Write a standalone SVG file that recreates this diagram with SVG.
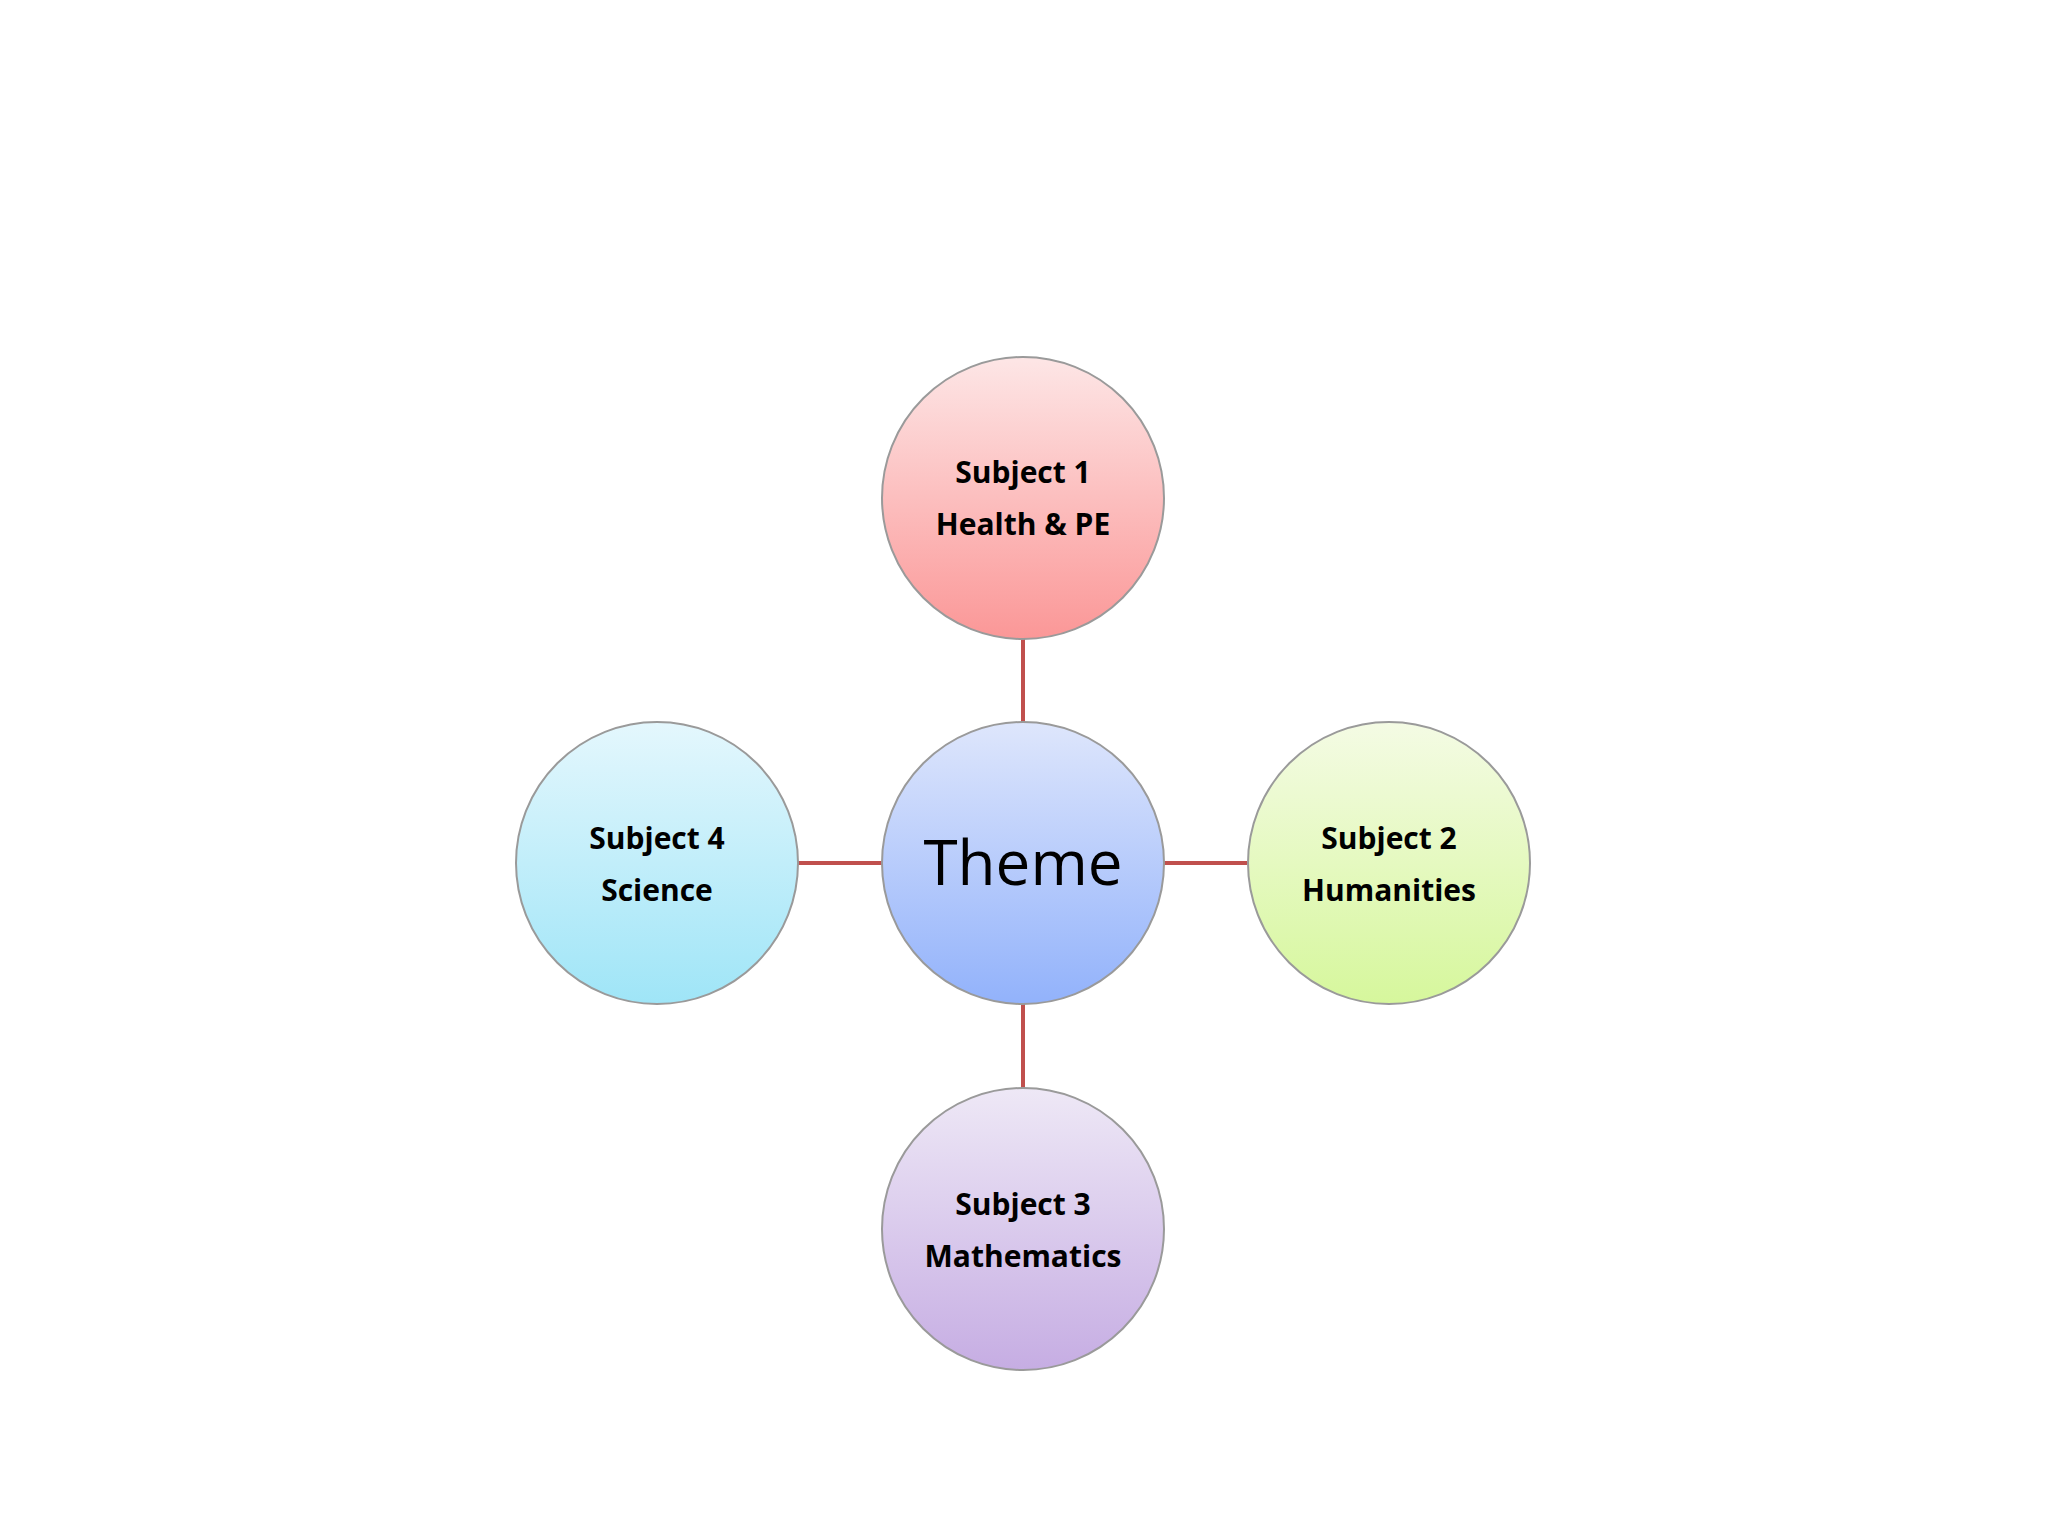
<svg xmlns="http://www.w3.org/2000/svg" width="2048" height="1536" viewBox="0 0 2048 1536">
<defs>
<linearGradient id="gR" x1="0" y1="0" x2="0" y2="1"><stop offset="0" stop-color="#fde6e6"/><stop offset="1" stop-color="#fb9797"/></linearGradient>
<linearGradient id="gB" x1="0" y1="0" x2="0" y2="1"><stop offset="0" stop-color="#dee6fc"/><stop offset="1" stop-color="#92b2fb"/></linearGradient>
<linearGradient id="gG" x1="0" y1="0" x2="0" y2="1"><stop offset="0" stop-color="#f4fbe4"/><stop offset="1" stop-color="#d6f79c"/></linearGradient>
<linearGradient id="gC" x1="0" y1="0" x2="0" y2="1"><stop offset="0" stop-color="#e4f7fd"/><stop offset="1" stop-color="#9fe5f7"/></linearGradient>
<linearGradient id="gP" x1="0" y1="0" x2="0" y2="1"><stop offset="0" stop-color="#eee8f6"/><stop offset="1" stop-color="#c6ade3"/></linearGradient>
</defs>
<style>
circle{stroke:#9a9a9a;stroke-width:2}
.t{font-family:"Open Sans","Liberation Sans",sans-serif;font-weight:bold;font-size:30px;text-anchor:middle;fill:#000}
.th{font-family:"Open Sans","Liberation Sans",sans-serif;font-size:62px;text-anchor:middle;fill:#000}
.c{stroke:#c0504d;stroke-width:4;fill:none}
</style>
<rect width="2048" height="1536" fill="#fff"/>
<g id="connectors">
<line class="c" x1="1023" y1="639" x2="1023" y2="722"/>
<line class="c" x1="1023" y1="1004" x2="1023" y2="1088"/>
<line class="c" x1="798" y1="863" x2="882" y2="863"/>
<line class="c" x1="1164" y1="863" x2="1247" y2="863"/>
</g>
<g id="theme"><circle cx="1023" cy="863" r="141" fill="url(#gB)"/><text class="th" x="1023" y="885">Theme</text></g>
<g id="subject1"><circle cx="1023" cy="498" r="141" fill="url(#gR)"/><text class="t" x="1023" y="483">Subject 1</text><text class="t" x="1023" y="535">Health &amp; PE</text></g>
<g id="subject2"><circle cx="1389" cy="863" r="141" fill="url(#gG)"/><text class="t" x="1389" y="849">Subject 2</text><text class="t" x="1389" y="901">Humanities</text></g>
<g id="subject3"><circle cx="1023" cy="1229" r="141" fill="url(#gP)"/><text class="t" x="1023" y="1215">Subject 3</text><text class="t" x="1023" y="1267">Mathematics</text></g>
<g id="subject4"><circle cx="657" cy="863" r="141" fill="url(#gC)"/><text class="t" x="657" y="849">Subject 4</text><text class="t" x="657" y="901">Science</text></g>
</svg>
